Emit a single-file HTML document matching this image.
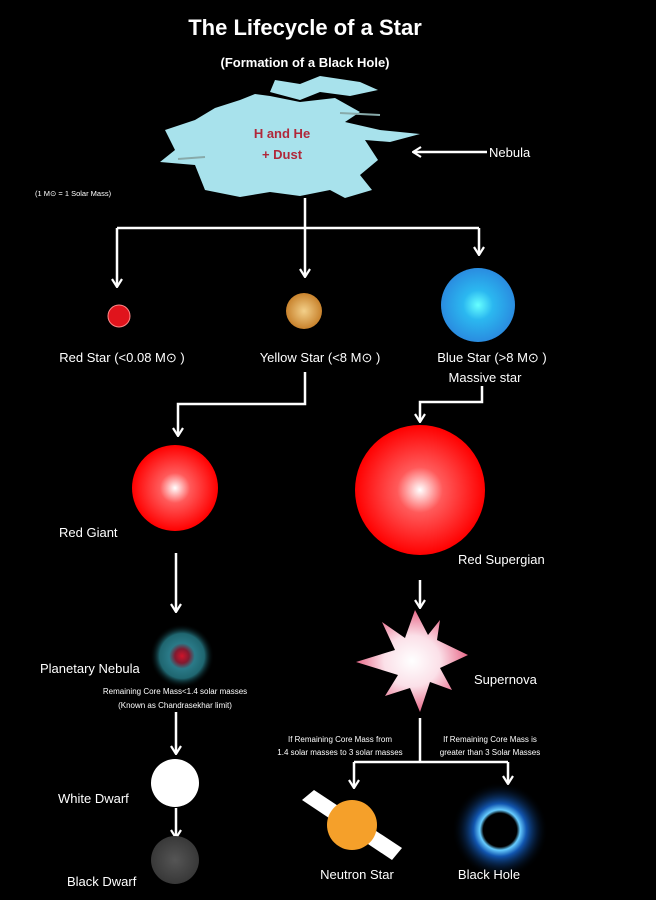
<!DOCTYPE html>
<html><head><meta charset="utf-8"><style>
html,body{margin:0;padding:0;background:#000;}
svg{display:block;}
text{font-family:"Liberation Sans",sans-serif;fill:#fff;}
</style></head><body>
<svg width="656" height="900" viewBox="0 0 656 900" xmlns="http://www.w3.org/2000/svg">
<defs>
<radialGradient id="rg" cx="50%" cy="50%" r="50%"><stop offset="0" stop-color="#fff"/><stop offset="0.35" stop-color="#ff5a5a"/><stop offset="1" stop-color="#f00"/></radialGradient>
<radialGradient id="ys" cx="50%" cy="50%" r="50%"><stop offset="0" stop-color="#f3d08a"/><stop offset="1" stop-color="#c8822c"/></radialGradient>
<radialGradient id="bs" cx="50%" cy="50%" r="50%"><stop offset="0" stop-color="#6ff"/><stop offset="0.4" stop-color="#2bb8f0"/><stop offset="1" stop-color="#2a8ce0"/></radialGradient>
<radialGradient id="pn" cx="50%" cy="50%" r="50%"><stop offset="0" stop-color="#d0142a"/><stop offset="0.22" stop-color="#801a30"/><stop offset="0.4" stop-color="#2a7a88"/><stop offset="0.7" stop-color="#1f6670"/><stop offset="1" stop-color="#000" stop-opacity="0"/></radialGradient>
<radialGradient id="sn" cx="50%" cy="50%" r="50%"><stop offset="0" stop-color="#fff"/><stop offset="0.5" stop-color="#fbe0e8"/><stop offset="1" stop-color="#e86a8a"/></radialGradient>
<radialGradient id="bh" cx="50%" cy="50%" r="50%"><stop offset="0.35" stop-color="#000"/><stop offset="0.42" stop-color="#6cf"/><stop offset="0.55" stop-color="#1256b0"/><stop offset="1" stop-color="#000" stop-opacity="0"/></radialGradient>
<radialGradient id="bd" cx="50%" cy="50%" r="50%"><stop offset="0" stop-color="#555"/><stop offset="1" stop-color="#383838"/></radialGradient>
<marker id="ar" viewBox="0 0 12 12" refX="11" refY="6" markerWidth="12" markerHeight="12" markerUnits="userSpaceOnUse" orient="auto-start-reverse"><path d="M3 1 L11 6 L3 11" fill="none" stroke="#fff" stroke-width="2.2"/></marker>
</defs>
<text x="305" y="35" font-size="22" font-weight="bold" text-anchor="middle">The Lifecycle of a Star</text>
<text x="305" y="67" font-size="13" font-weight="bold" text-anchor="middle">(Formation of a Black Hole)</text>
<g fill="#a8e2ec">
<path d="M275 80 L300 84 L320 76 L360 82 L378 90 L350 96 L320 92 L300 100 L270 92 Z"/>
<path d="M240 100 L255 94 L270 96 L300 102 L335 98 L360 112 L345 122 L380 130 L420 134 L390 142 L365 140 L378 160 L360 175 L372 190 L345 198 L330 190 L300 196 L270 192 L240 197 L205 190 L195 165 L160 162 L175 150 L165 130 L195 120 L215 108 Z"/>
</g>
<path d="M340 113 L380 115" stroke="#8aa" stroke-width="2"/>
<path d="M178 159 L205 157" stroke="#8aa" stroke-width="2"/>
<text x="282" y="138" font-size="13" font-weight="bold" text-anchor="middle" style="fill:#b0283a">H and He</text>
<text x="282" y="159" font-size="13" font-weight="bold" text-anchor="middle" style="fill:#b0283a">+ Dust</text>
<line x1="487" y1="152" x2="413" y2="152" stroke="#fff" stroke-width="2.5" marker-end="url(#ar)"/>
<text x="489" y="157" font-size="13">Nebula</text>
<text x="35" y="196" font-size="7.5">(1 M⊙ = 1 Solar Mass)</text>
<g stroke="#fff" stroke-width="2.5" fill="none">
<line x1="305" y1="198" x2="305" y2="228"/>
<line x1="117" y1="228" x2="479" y2="228"/>
<line x1="117" y1="228" x2="117" y2="287" marker-end="url(#ar)"/>
<line x1="305" y1="228" x2="305" y2="277" marker-end="url(#ar)"/>
<line x1="479" y1="228" x2="479" y2="255" marker-end="url(#ar)"/>
<polyline points="305,372 305,404 178,404 178,436" marker-end="url(#ar)"/>
<polyline points="482,386 482,402 420,402 420,422" marker-end="url(#ar)"/>
<line x1="176" y1="553" x2="176" y2="612" marker-end="url(#ar)"/>
<line x1="420" y1="580" x2="420" y2="608" marker-end="url(#ar)"/>
<line x1="176" y1="712" x2="176" y2="754" marker-end="url(#ar)"/>
<line x1="176" y1="808" x2="176" y2="838" marker-end="url(#ar)"/>
<line x1="420" y1="718" x2="420" y2="762"/>
<line x1="354" y1="762" x2="508" y2="762"/>
<line x1="354" y1="762" x2="354" y2="788" marker-end="url(#ar)"/>
<line x1="508" y1="762" x2="508" y2="784" marker-end="url(#ar)"/>
</g>
<circle cx="119" cy="316" r="11" fill="#e0141c" stroke="#f88" stroke-width="1"/>
<circle cx="304" cy="311" r="18" fill="url(#ys)"/>
<circle cx="478" cy="305" r="37" fill="url(#bs)"/>
<text x="122" y="362" font-size="13" text-anchor="middle">Red Star (&lt;0.08 M⊙ )</text>
<text x="320" y="362" font-size="13" text-anchor="middle">Yellow Star (&lt;8 M⊙ )</text>
<text x="492" y="362" font-size="13" text-anchor="middle">Blue Star (&gt;8 M⊙ )</text>
<text x="485" y="382" font-size="13" text-anchor="middle">Massive star</text>
<ellipse cx="175" cy="488" rx="43" ry="43" fill="url(#rg)"/>
<ellipse cx="420" cy="490" rx="65" ry="65" fill="url(#rg)"/>
<text x="59" y="537" font-size="13">Red Giant</text>
<text x="458" y="564" font-size="13">Red Supergian</text>
<circle cx="182" cy="656" r="32" fill="url(#pn)"/>
<text x="40" y="673" font-size="13">Planetary Nebula</text>
<text x="175" y="694" font-size="8" text-anchor="middle">Remaining Core Mass&lt;1.4 solar masses</text>
<text x="175" y="708" font-size="8" text-anchor="middle">(Known as Chandrasekhar limit)</text>
<path d="M415 610 L428 635 L440 620 L437 640 L468 655 L440 668 L452 690 L430 682 L420 712 L410 688 L385 696 L398 675 L356 662 L395 650 L382 622 L405 638 Z" fill="url(#sn)"/>
<text x="474" y="684" font-size="13">Supernova</text>
<text x="340" y="742" font-size="8" text-anchor="middle">If Remaining Core Mass from</text>
<text x="340" y="755" font-size="8" text-anchor="middle">1.4 solar masses to 3 solar masses</text>
<text x="490" y="742" font-size="8" text-anchor="middle">If Remaining Core Mass is</text>
<text x="490" y="755" font-size="8" text-anchor="middle">greater  than 3 Solar Masses</text>
<circle cx="175" cy="783" r="24" fill="#fff"/>
<text x="58" y="803" font-size="13">White Dwarf</text>
<circle cx="175" cy="860" r="24" fill="url(#bd)"/>
<text x="67" y="886" font-size="13">Black Dwarf</text>
<polygon points="302,800 314,790 402,848 392,860" fill="#fff"/>
<circle cx="352" cy="825" r="25" fill="#f5a02a"/>
<text x="357" y="879" font-size="13" text-anchor="middle">Neutron Star</text>
<circle cx="500" cy="830" r="48" fill="url(#bh)"/>
<text x="489" y="879" font-size="13" text-anchor="middle">Black Hole</text>
</svg>
</body></html>
